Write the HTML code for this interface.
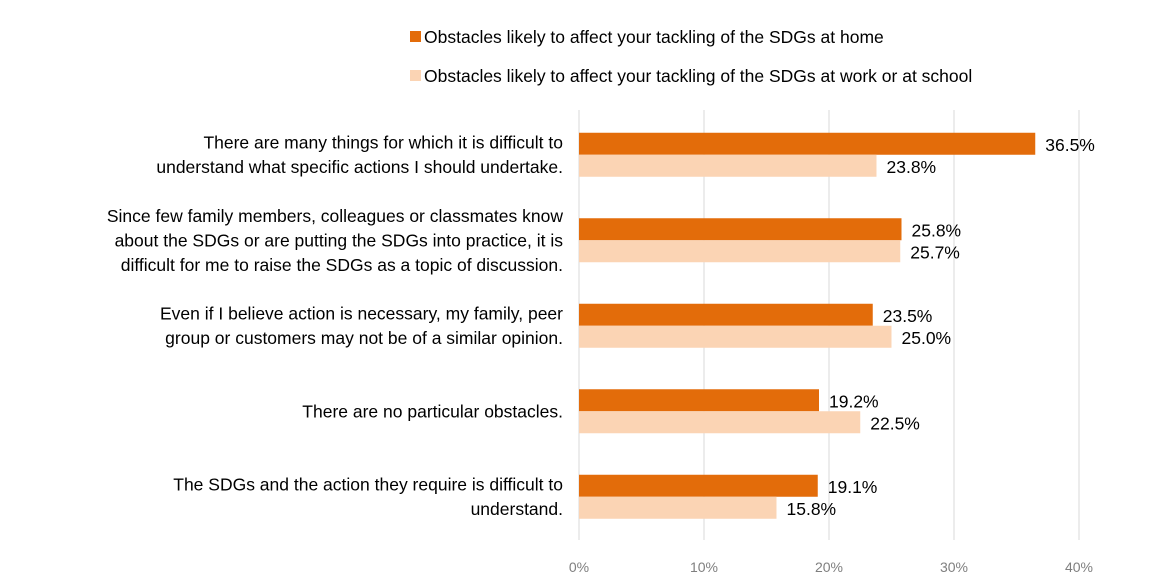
<!DOCTYPE html>
<html><head><meta charset="utf-8"><style>
html,body{margin:0;padding:0;background:#fff;}
body{width:1154px;height:583px;overflow:hidden;font-family:"Liberation Sans",Verdana,sans-serif;}
</style></head><body>
<svg id="chart" width="1154" height="583" xmlns="http://www.w3.org/2000/svg" font-family="Liberation Sans, sans-serif"></svg>
<script>
const categories = [
  ["There are many things for which it is difficult to","understand what specific actions I should undertake."],
  ["Since few family members, colleagues or classmates know","about the SDGs or are putting the SDGs into practice, it is","difficult for me to raise the SDGs as a topic of discussion."],
  ["Even if I believe action is necessary, my family, peer","group or customers may not be of a similar opinion."],
  ["There are no particular obstacles."],
  ["The SDGs and the action they require is difficult to","understand."]
];
const homeValues = [36.5, 25.8, 23.5, 19.2, 19.1];
const workValues = [23.8, 25.7, 25.0, 22.5, 15.8];
const tickValues = [0, 10, 20, 30, 40];
const tickLabels = ["0%", "10%", "20%", "30%", "40%"];
const seriesNames = ["Obstacles likely to affect your tackling of the SDGs at home","Obstacles likely to affect your tackling of the SDGs at work or at school"];

const svg = document.getElementById('chart');
const NS = 'http://www.w3.org/2000/svg';
const x0 = 579, pxPer = 12.5;
const xScale = v => x0 + v * pxPer;
const plotTop = 112, groupH = 85.5, barH = 22;
const yCenter = i => plotTop + groupH * (i + 0.5);
function mk(tag, attrs, parent){const e=document.createElementNS(NS,tag);for(const k in attrs)e.setAttribute(k,attrs[k]);(parent||svg).appendChild(e);return e;}

tickValues.forEach((t,i)=>{
  const g = mk('line',{x1:xScale(t),x2:xScale(t),y1:110,y2:540,stroke:'#d9d9d9','stroke-width':1});
  
  
  const tl = mk('text',{x:xScale(t),y:572,'text-anchor':'middle','font-size':14,fill:'#7f7f7f'});
  tl.textContent = tickLabels[i];
  
  
});

const colors = ['#E36C0A','#FBD4B4'];
categories.forEach((lines,i)=>{
  const c = yCenter(i);
  const n = lines.length, lh = 24.5;
  lines.forEach((ln,j)=>{
    const t = mk('text',{x:563,y:c + (j-(n-1)/2)*lh + 6,'text-anchor':'end','font-size':17.5,fill:'#000'});
    t.textContent = ln;
    
    
  });
  [homeValues[i], workValues[i]].forEach((v,s)=>{
    const y = c - barH + s*barH;
    const r = mk('rect',{x:x0,y:y,width:xScale(v)-x0,height:barH,fill:colors[s]});
    
    
    const l = mk('text',{x:xScale(v)+10,y:y+barH/2+7,'font-size':17.5,fill:'#000'});
    l.textContent = v.toFixed(1)+'%';
    
    
  });
});

seriesNames.forEach((n,s)=>{
  const y = 37 + s*39;
  const sq = mk('rect',{x:410,y:y-6,width:11,height:11,fill:colors[s]});
  
  
  const t = mk('text',{x:424,y:y+6,'font-size':17.5,fill:'#000'});
  t.textContent = n;
  
  
});
</script>
</body></html>
